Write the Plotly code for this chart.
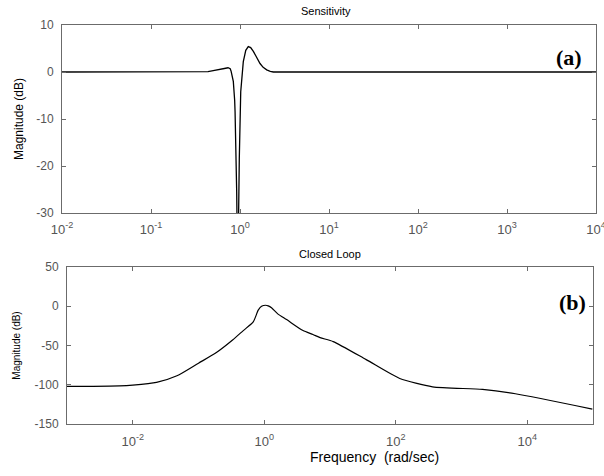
import plotly.graph_objects as go

# ---- Data ----
# (a) Sensitivity: frequency (rad/s) and magnitude (dB)
sens_freq = [1e-2, 0.10, 0.40, 0.437, 0.50, 0.60, 0.69, 0.733, 0.776, 0.794,
             0.813, 0.841, 0.871, 0.880, 0.918, 0.943, 0.982, 1.019, 1.089,
             1.161, 1.239, 1.318, 1.413, 1.549, 1.679, 1.820, 1.995, 2.188,
             2.371, 1e2, 1e4]
sens_db = [0.0, 0.0, 0.0, 0.1, 0.3, 0.5, 0.8, 0.9, 0.7, 0.2,
           -0.6, -2.0, -6.0, -8.4, -25.5, -45.0, -18.4, -4.2, 2.2,
           4.6, 5.4, 5.2, 4.4, 3.0, 1.8, 1.0, 0.45, 0.15,
           0.0, 0.0, 0.0]

# (b) Closed loop: frequency (rad/s) and magnitude (dB)
cl_freq = [1e-3, 2.5e-3, 6.3e-3, 1e-2, 2.3e-2, 4.7e-2, 0.10, 0.18, 0.33,
           0.48, 0.68, 0.81, 0.91, 1.05, 1.15, 1.29, 1.62, 2.19, 3.89,
           5.50, 7.08, 11.2, 35.5, 115, 363, 2090, 6600, 97700]
cl_db = [-102.0, -102.0, -101.5, -100.5, -97.0, -88.6, -72.5, -60.0, -43.0,
         -31.0, -20.0, -5.0, 0.0, 1.3, 0.5, -2.0, -10.0, -17.0, -31.0,
         -36.0, -40.0, -45.0, -68.0, -92.0, -102.6, -106.0, -111.5, -131.0]

sens_xticks = [1e-2, 1e-1, 1e0, 1e1, 1e2, 1e3, 1e4]
sens_xticktext = ["10<sup>-2</sup>", "10<sup>-1</sup>", "10<sup>0</sup>",
                  "10<sup>1</sup>", "10<sup>2</sup>", "10<sup>3</sup>",
                  "10<sup>4</sup>"]
sens_yticks = [-30, -20, -10, 0, 10]
sens_yticktext = ["-30", "-20", "-10", "0", "10"]

cl_xticks = [1e-2, 1e0, 1e2, 1e4]
cl_xticktext = ["10<sup>-2</sup>", "10<sup>0</sup>", "10<sup>2</sup>",
                "10<sup>4</sup>"]
cl_yticks = [-150, -100, -50, 0, 50]
cl_yticktext = ["-150", "-100", "-50", "0", "50"]

# minor log ticks (axis furniture) for the top panel
sens_minor = [m * 10.0 ** e for e in range(-2, 4) for m in range(2, 10)]

W, H = 604, 476
FONT = "Liberation Sans, Arial, sans-serif"
SERIF = "Liberation Serif, Times New Roman, serif"
AX = "#6b6b6b"
TICKFONT = dict(family=FONT, size=12, color="#555555")
XTICKFONT = dict(family=FONT, size=13, color="#555555")

fig = go.Figure()
fig.add_trace(go.Scatter(x=sens_freq, y=sens_db, mode="lines",
                         line=dict(color="black", width=1.3),
                         xaxis="x", yaxis="y", showlegend=False))
fig.add_trace(go.Scatter(x=cl_freq, y=cl_db, mode="lines",
                         line=dict(color="black", width=1.2, shape="spline",
                                   smoothing=0.6),
                         xaxis="x2", yaxis="y2", showlegend=False))

common = dict(showline=True, linecolor=AX, linewidth=1, mirror="ticks",
              ticks="inside", tickcolor=AX, ticklen=4, showgrid=False,
              zeroline=False, automargin=False, ticklabeloverflow="allow")

fig.update_layout(
    width=W, height=H,
    margin=dict(l=0, r=0, t=0, b=0),
    paper_bgcolor="white", plot_bgcolor="white",
    xaxis=dict(type="log", range=[-2, 4], domain=[62 / W, 596 / W],
               anchor="y", tickmode="array", tickvals=sens_xticks,
               ticktext=sens_xticktext,
               tickfont=XTICKFONT, ticklabelstandoff=4,
               **common),
    # overlay axis carrying only the minor log ticks of the top panel
    xaxis3=dict(type="log", range=[-2, 4], overlaying="x", anchor="y",
                side="bottom", tickmode="array", tickvals=sens_minor,
                showticklabels=False, ticks="inside", ticklen=3,
                tickcolor=AX, tickwidth=1, mirror="ticks", showline=False,
                showgrid=False, zeroline=False, automargin=False,
                matches="x"),
    yaxis=dict(range=[-30, 10], domain=[1 - 213 / H, 1 - 25 / H],
               anchor="x", tickvals=sens_yticks, ticktext=sens_yticktext,
               tickfont=TICKFONT, ticklabelstandoff=5,
               title=dict(text="Magnitude (dB)",
                          font=dict(family=FONT, size=12, color="black"),
                          standoff=10),
               **common),
    xaxis2=dict(type="log", range=[-3, 5], domain=[67 / W, 593 / W],
                anchor="y2", tickvals=cl_xticks, ticktext=cl_xticktext,
                tickfont=XTICKFONT, ticklabelstandoff=5,
                **common),
    yaxis2=dict(range=[-150, 50], domain=[1 - 424 / H, 1 - 267 / H],
                anchor="x2", tickvals=cl_yticks, ticktext=cl_yticktext,
                tickfont=TICKFONT, ticklabelstandoff=5,
                title=dict(text="Magnitude (dB)",
                           font=dict(family=FONT, size=10, color="black"),
                           standoff=12),
                **common),
    annotations=[
        dict(text="Sensitivity", x=326 / W, y=1 - 11 / H, xref="paper",
             yref="paper", showarrow=False, xanchor="center",
             yanchor="middle",
             font=dict(family=FONT, size=11, color="black")),
        dict(text="Closed Loop", x=330 / W, y=1 - 254 / H, xref="paper",
             yref="paper", showarrow=False, xanchor="center",
             yanchor="middle",
             font=dict(family=FONT, size=11, color="black")),
        dict(text="Frequency  (rad/sec)", x=374 / W, y=1 - 457 / H,
             xref="paper", yref="paper", showarrow=False, xanchor="center",
             yanchor="middle",
             font=dict(family=FONT, size=14, color="black")),
        dict(text="<b>(a)</b>", x=569 / W, y=1 - 57 / H, xref="paper",
             yref="paper", showarrow=False, xanchor="center",
             yanchor="middle",
             font=dict(family=SERIF, size=22, color="black")),
        dict(text="<b>(b)</b>", x=572 / W, y=1 - 302 / H, xref="paper",
             yref="paper", showarrow=False, xanchor="center",
             yanchor="middle",
             font=dict(family=SERIF, size=22, color="black")),
    ],
)

fig.write_html("out.html")
